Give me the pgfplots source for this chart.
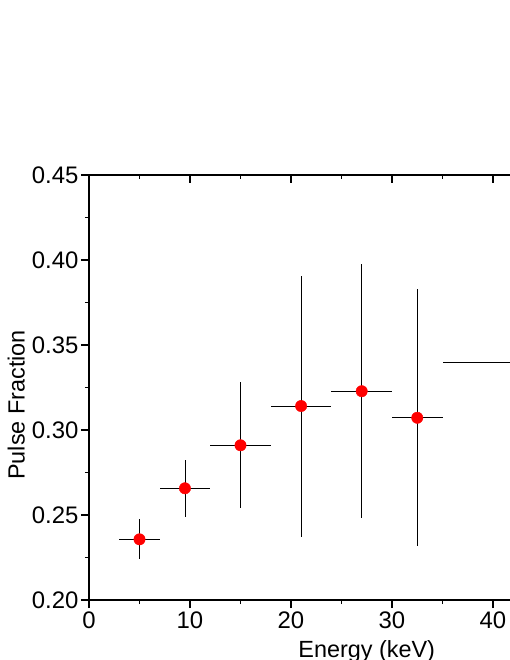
\documentclass[border=0pt]{standalone}
\usepackage{fontspec}
\setmainfont{Liberation Sans}
\usepackage{pgfplots}
\usepackage{pgfplotstable}
\pgfplotsset{compat=1.18}
\pgfplotstableread{
x y exm exp eym eyp
5 0.2357 2 2 0.0114 0.0118
9.5 0.2657 2.5 2.5 0.0167 0.0167
15 0.2910 3 3 0.0370 0.0370
21 0.3141 3 3 0.0772 0.0767
27 0.3228 3 3 0.0747 0.0747
32.5 0.3072 2.5 2.5 0.0754 0.0756
42.5 0.3396 7.5 7.5 0.0700 0.0700
}\pfdata
\begin{document}
\begin{tikzpicture}
\useasboundingbox (0,0) rectangle (510bp,660bp);
\clip (0,0) rectangle (510bp,660bp);
\begin{axis}[
  at={(89bp,60bp)}, anchor=south west,
  scale only axis, width=555.5bp, height=425bp,
  xmin=0, xmax=55, ymin=0.20, ymax=0.45,
  xtick={0,10,20,30,40,50},
  ytick={0.20,0.25,0.30,0.35,0.40,0.45},
  minor x tick num=1, minor y tick num=1,
  yticklabel style={/pgf/number format/fixed, /pgf/number format/fixed zerofill, /pgf/number format/precision=2, xshift=1bp},
  /pgf/number format/assume math mode=true,
  tick align=outside,
  xtick pos=bottom, ytick pos=left,
  major tick length=8bp, minor tick length=4bp,
  axis line style={line width=1.2bp},
  every tick/.style={black, line width=1.1bp},
  ticklabel style={font=\fontsize{24}{28}\selectfont},
  label style={font=\fontsize{23.5}{28}\selectfont},
  xlabel={Energy (keV)},
  ylabel={Pulse Fraction},
  xlabel style={at={(axis description cs:0.5,-0.136)}, anchor=base},
  ylabel style={at={(axis description cs:-0.131,0.459)}, anchor=center},
]
\addplot[only marks, mark=*, mark size=5.7bp, color=red,
  error bars/.cd, x dir=both, x explicit, y dir=both, y explicit,
  error mark=none, error bar style={black, line width=0.9bp}]
  table[x=x, y=y, x error plus=exp, x error minus=exm, y error plus=eyp, y error minus=eym]{\pfdata};
\end{axis}
\begin{axis}[
  at={(89bp,60bp)}, anchor=south west,
  scale only axis, width=555.5bp, height=425bp,
  xmin=0, xmax=55, ymin=0.20, ymax=0.45,
  axis x line*=top, hide y axis,
  xtick={0,10,20,30,40,50}, xticklabels={},
  minor x tick num=1,
  tick align=inside,
  major tick length=8bp, minor tick length=4bp,
  axis line style={line width=1.2bp},
  every tick/.style={black, line width=1.1bp},
]
\end{axis}
\end{tikzpicture}
\end{document}
